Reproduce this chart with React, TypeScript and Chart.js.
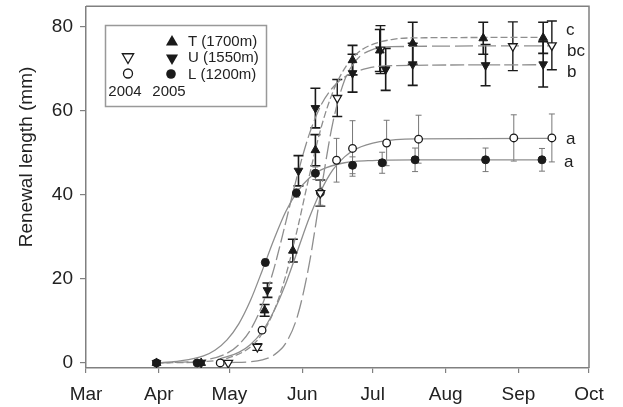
import React, { useEffect, useRef } from 'react';
import { Chart, registerables } from 'chart.js';

Chart.register(...registerables);

// ---- axis ticks (day of year) ----
const monthTicks = [60, 91, 121, 152, 182, 213, 244, 274];
const monthLabels = ['Mar', 'Apr', 'May', 'Jun', 'Jul', 'Aug', 'Sep', 'Oct'];
const yTicks = [0, 20, 40, 60, 80];

// ---- measured points (day of year, mm, ± error) ----
// T (1700m) 2005
const tDays = [90, 109, 136, 148, 157.6, 173.4, 185, 199, 229, 254.5];
const tVals = [0, 0, 12.5, 26.7, 50.6, 72, 74.3, 76, 77.2, 77.3];
const tErr = [0, 0, 1.4, 2.7, 3.7, 3.5, 5, 5, 3.8, 3.7];
// U (1550m) 2005
const uDays = [90, 109, 137.2, 150.4, 157.6, 173.4, 187.5, 199, 230, 254.5];
const uVals = [0, 0, 17.3, 45.7, 60.6, 68.9, 69.8, 71, 70.8, 71];
const uErr = [0, 0, 1.7, 3.6, 4.7, 4.5, 5, 5, 4.9, 5.4];
// L (1200m) 2005
const lDays = [90, 107.3, 136.3, 149.5, 157.6, 173.4, 186, 200, 230, 254];
const lVals = [0, 0, 23.9, 40.4, 45.1, 47, 47.6, 48.3, 48.3, 48.3];
const lErr = [0, 0, 0.8, 1, 1.5, 2, 2.5, 2.8, 2.8, 2.7];
// U (1550m) 2004
const u4Days = [120.5, 132.9, 159.7, 166.9, 185.3, 241.6, 258.2];
const u4Vals = [0, 3.8, 40.4, 63, 74.5, 75.3, 75.5];
const u4Err = [0, 0.8, 3.1, 4.4, 5.7, 5.8, 5.8];
// L (1200m) 2004
const l4Days = [117.1, 134.9, 159.7, 166.6, 173.4, 187.9, 201.5, 242, 258.2];
const l4Vals = [0, 7.8, 40.5, 48.2, 51, 52.3, 53.2, 53.5, 53.5];
const l4Err = [0, 0.8, 3, 5.2, 6.6, 5.4, 5.7, 5.5, 5.7];

// ---- fitted curves ----
const tFitDays = [90, 110, 120, 130, 135, 140, 145, 150, 155, 160, 165, 170, 175, 180, 190, 200, 254.5];
const tFitVals = [0, 0.3, 1.1, 3.8, 7.0, 12.4, 20.8, 32, 44.5, 55.9, 64.4, 70, 73.4, 75.3, 76.9, 77.3, 77.4];
const uFitDays = [90, 110, 120, 125, 130, 135, 140, 145, 150, 155, 160, 165, 170, 180, 190, 254.5];
const uFitVals = [0, 0.65, 2.3, 4.35, 7.9, 13.8, 22.5, 33.5, 44.8, 54.4, 61.3, 65.5, 68.0, 70.1, 70.7, 70.9];
const lFitDays = [90, 100, 110, 115, 120, 125, 130, 135, 140, 145, 150, 155, 160, 170, 180, 200, 254];
const lFitVals = [0, 0.5, 1.7, 3.1, 5.5, 9.3, 14.9, 22, 29.4, 36, 40.8, 44, 45.9, 47.6, 48.1, 48.3, 48.3];
const u4FitDays = [120.5, 130, 135, 140, 145, 150, 155, 160, 165, 170, 175, 180, 190, 258.2];
const u4FitVals = [0.1, 0.28, 0.73, 1.9, 4.7, 11.2, 23.6, 41, 57.1, 67.2, 72, 74.1, 75.2, 75.4];
const l4FitDays = [117, 125, 130, 135, 140, 145, 150, 155, 160, 165, 170, 175, 185, 200, 258.2];
const l4FitVals = [1, 2.5, 4.4, 7.5, 12.4, 18.9, 26.7, 34.5, 41, 45.9, 49, 50.9, 52.6, 53.3, 53.4];

// ---- text ----
const yTitle = 'Renewal length (mm)';
const legendRows = ['T (1700m)', 'U (1550m)', 'L (1200m)'];
const legendYears = ['2004', '2005'];
const groupLetters = ['c', 'bc', 'b', 'a', 'a'];

const FONT = "'Liberation Sans', Arial, Helvetica, sans-serif";
const AXIS = '#808080';
const CURVE = '#8e8e8e';
const INK = '#1a1a1a';

const pts = (xs: number[], ys: number[]) => xs.map((x, i) => ({ x, y: ys[i] }));

function markerSet(label: string, xs: number[], ys: number[], style: string, r: number, filled: boolean, rot = 0) {
  return {
    label,
    data: pts(xs, ys),
    showLine: false,
    pointStyle: style,
    pointRadius: r,
    pointRotation: rot,
    pointBackgroundColor: filled ? INK : '#ffffff',
    pointBorderColor: INK,
    pointBorderWidth: filled ? 1 : 1.3,
    order: 0,
  };
}

function curveSet(label: string, xs: number[], ys: number[], dash: number[]) {
  return {
    label,
    data: pts(xs, ys),
    showLine: true,
    pointRadius: 0,
    borderColor: CURVE,
    borderWidth: 1.3,
    borderDash: dash,
    cubicInterpolationMode: 'monotone',
    fill: false,
    order: 5,
  };
}

const errorSeries = [
  { xs: tDays, ys: tVals, es: tErr, color: INK, width: 1.6, cap: 5 },
  { xs: uDays, ys: uVals, es: uErr, color: INK, width: 1.6, cap: 5 },
  { xs: u4Days, ys: u4Vals, es: u4Err, color: INK, width: 1.4, cap: 5 },
  { xs: lDays, ys: lVals, es: lErr, color: '#777', width: 1, cap: 3 },
  { xs: l4Days, ys: l4Vals, es: l4Err, color: '#777', width: 1, cap: 3 },
];

function tri(ctx: CanvasRenderingContext2D, x: number, y: number, r: number, down: boolean, filled: boolean) {
  const s = down ? -1 : 1;
  ctx.beginPath();
  ctx.moveTo(x, y - s * r);
  ctx.lineTo(x + r * 0.866, y + s * r * 0.5);
  ctx.lineTo(x - r * 0.866, y + s * r * 0.5);
  ctx.closePath();
  if (filled) {
    ctx.fillStyle = INK;
    ctx.fill();
  } else {
    ctx.fillStyle = '#fff';
    ctx.fill();
    ctx.lineWidth = 1.3;
    ctx.strokeStyle = INK;
    ctx.stroke();
  }
}

function circ(ctx: CanvasRenderingContext2D, x: number, y: number, r: number, filled: boolean) {
  ctx.beginPath();
  ctx.arc(x, y, r, 0, Math.PI * 2);
  if (filled) {
    ctx.fillStyle = INK;
    ctx.fill();
  } else {
    ctx.fillStyle = '#fff';
    ctx.fill();
    ctx.lineWidth = 1.3;
    ctx.strokeStyle = INK;
    ctx.stroke();
  }
}

const decor = {
  id: 'decor',
  beforeDatasetsDraw(chart: any) {
    const { ctx, scales } = chart;
    const x = scales.x;
    const y = scales.y;
    ctx.save();
    for (const s of errorSeries) {
      ctx.strokeStyle = s.color;
      ctx.lineWidth = s.width;
      s.xs.forEach((d: number, i: number) => {
        const e = s.es[i];
        if (!e) return;
        const px = x.getPixelForValue(d);
        const y1 = y.getPixelForValue(s.ys[i] + e);
        const y2 = y.getPixelForValue(s.ys[i] - e);
        ctx.beginPath();
        ctx.moveTo(px, y1);
        ctx.lineTo(px, y2);
        ctx.moveTo(px - s.cap, y1);
        ctx.lineTo(px + s.cap, y1);
        ctx.moveTo(px - s.cap, y2);
        ctx.lineTo(px + s.cap, y2);
        ctx.stroke();
      });
    }
    ctx.restore();
  },
  afterDraw(chart: any) {
    const { ctx, chartArea } = chart;
    const { left, top, right, bottom } = chartArea;
    ctx.save();
    // top & right frame
    ctx.strokeStyle = AXIS;
    ctx.lineWidth = 1.5;
    ctx.beginPath();
    ctx.moveTo(left, top);
    ctx.lineTo(right, top);
    ctx.lineTo(right, bottom);
    ctx.stroke();

    // y title
    ctx.fillStyle = '#222';
    ctx.font = `19px ${FONT}`;
    ctx.textAlign = 'center';
    ctx.textBaseline = 'middle';
    ctx.save();
    ctx.translate(27, 157);
    ctx.rotate(-Math.PI / 2);
    ctx.fillText(yTitle, 0, 0);
    ctx.restore();

    // legend box
    ctx.strokeStyle = '#999';
    ctx.lineWidth = 1.5;
    ctx.strokeRect(105.5, 25.5, 161, 81);
    tri(ctx, 172, 42, 7, false, true);
    tri(ctx, 128, 57, 6.5, true, false);
    tri(ctx, 172, 58, 7, true, true);
    circ(ctx, 128, 73.5, 4.5, false);
    circ(ctx, 171, 74, 4.8, true);
    ctx.fillStyle = '#222';
    ctx.font = `15px ${FONT}`;
    ctx.textAlign = 'left';
    ctx.fillText(legendRows[0], 188, 41.5);
    ctx.fillText(legendRows[1], 188, 57.5);
    ctx.fillText(legendRows[2], 188, 74.5);
    ctx.textAlign = 'center';
    ctx.fillText(legendYears[0], 125, 92);
    ctx.fillText(legendYears[1], 169, 92);

    // group letters
    ctx.font = `17px ${FONT}`;
    ctx.textAlign = 'left';
    const lx = right - 23;
    ctx.fillText(groupLetters[0], lx, 30);
    ctx.fillText(groupLetters[1], lx + 1, 51);
    ctx.fillText(groupLetters[2], lx + 1, 72);
    ctx.fillText(groupLetters[3], lx, 139);
    ctx.fillText(groupLetters[4], lx - 2, 162);
    ctx.restore();
  },
};

export default function App() {
  const ref = useRef<HTMLCanvasElement>(null);
  useEffect(() => {
    document.body.style.margin = '0';
    const canvas = ref.current;
    if (!canvas) return;
    const datasets: any[] = [
      markerSet('T 2005', tDays, tVals, 'triangle', 5, true),
      markerSet('U 2005', uDays, uVals, 'triangle', 5, true, 180),
      markerSet('L 2005', lDays, lVals, 'circle', 4, true),
      markerSet('U 2004', u4Days, u4Vals, 'triangle', 5, false, 180),
      markerSet('L 2004', l4Days, l4Vals, 'circle', 3.8, false),
      curveSet('T fit', tFitDays, tFitVals, [7, 3]),
      curveSet('U fit', uFitDays, uFitVals, [14, 4]),
      curveSet('L fit', lFitDays, lFitVals, []),
      curveSet('U04 fit', u4FitDays, u4FitVals, [18, 5]),
      curveSet('L04 fit', l4FitDays, l4FitVals, []),
    ];
    const chart = new Chart(canvas, {
      type: 'scatter',
      data: { datasets },
      options: {
        responsive: false,
        animation: false,
        devicePixelRatio: 1,
        events: [],
        layout: { padding: { top: 6, right: 34, left: 0, bottom: 0 } },
        plugins: { legend: { display: false }, tooltip: { enabled: false } },
        scales: {
          x: {
            type: 'linear',
            min: 60,
            max: 274,
            afterBuildTicks: (s: any) => {
              s.ticks = monthTicks.map((v) => ({ value: v }));
            },
            afterFit: (s: any) => {
              s.height = 39;
              s.paddingLeft = 0;
              s.paddingRight = 0;
            },
            grid: { display: true, drawOnChartArea: false, drawTicks: true, tickLength: 5, color: AXIS, lineWidth: 1.2 },
            border: { display: true, color: AXIS, width: 1.5 },
            ticks: {
              color: '#222',
              font: { family: FONT, size: 19 },
              padding: 10,
              maxRotation: 0,
              autoSkip: false,
              callback: (v: any) => {
                const i = monthTicks.indexOf(Number(v));
                return i >= 0 ? monthLabels[i] : '';
              },
            },
          },
          y: {
            type: 'linear',
            min: -1.2,
            max: 84.8,
            afterBuildTicks: (s: any) => {
              s.ticks = yTicks.map((v) => ({ value: v }));
            },
            afterFit: (s: any) => {
              s.width = 86;
              s.paddingTop = 0;
              s.paddingBottom = 0;
            },
            grid: { display: true, drawOnChartArea: false, drawTicks: true, tickLength: 6, color: AXIS, lineWidth: 1.2 },
            border: { display: true, color: AXIS, width: 1.5 },
            ticks: {
              color: '#222',
              font: { family: FONT, size: 19 },
              padding: 7,
              autoSkip: false,
            },
          },
        },
      } as any,
      plugins: [decor],
    });
    return () => chart.destroy();
  }, []);
  return (
    <div style={{ width: 623, height: 407 }}>
      <canvas ref={ref} width={623} height={407} style={{ display: 'block' }} />
    </div>
  );
}
